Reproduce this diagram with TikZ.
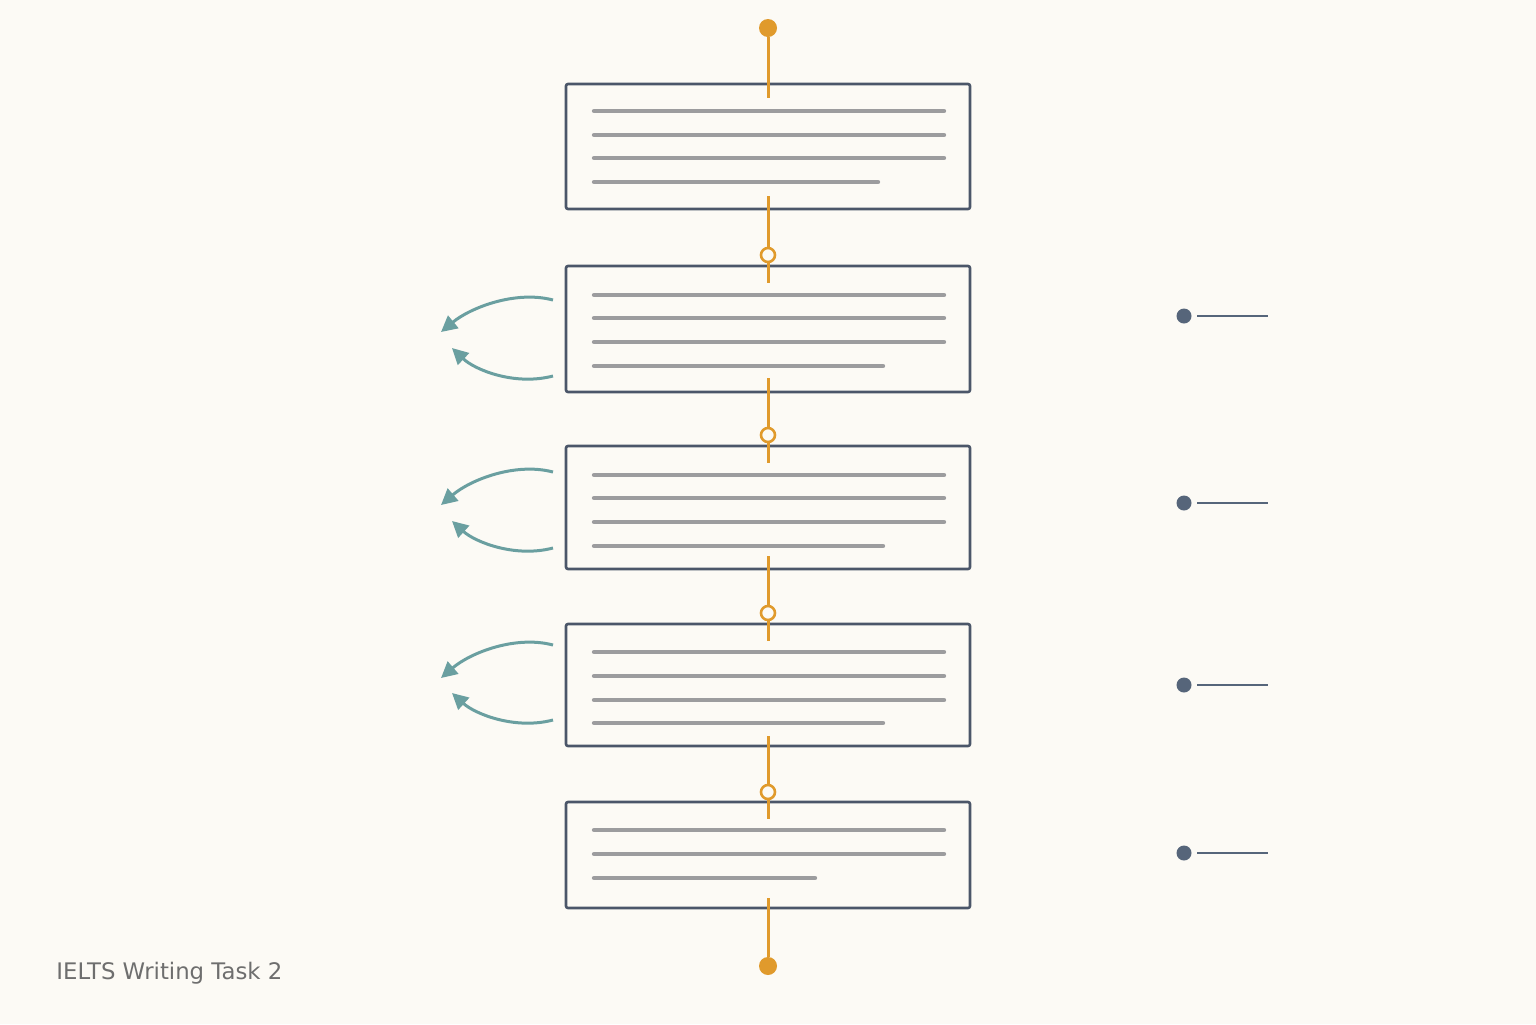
\documentclass[tikz,border=0pt]{standalone}
\usepackage{fontspec}
\newfontfamily\captionfont{DejaVu Sans}
\usepackage{tikz}
\usetikzlibrary{calc,positioning,arrows.meta}
\definecolor{bgcream}{HTML}{FCFAF5}
\definecolor{slate}{HTML}{4B5669}
\definecolor{txtgray}{HTML}{9C9C9E}
\definecolor{amber}{HTML}{E09A2C}
\definecolor{tealish}{HTML}{6A9FA0}
\definecolor{dotslate}{HTML}{56657A}
\definecolor{labelgray}{HTML}{6E6E6E}
\tikzset{
  para/.style={draw=slate,line width=1.3pt,rounded corners=1pt,fill=bgcream,
    minimum width=202pt,inner sep=0pt},
  textline/.style={txtgray,line width=2.2pt,line cap=round},
  spine/.style={amber,line width=1.5pt},
  enddot/.style={circle,fill=amber,minimum size=9pt,inner sep=0pt},
  joint/.style={circle,draw=amber,line width=1.3pt,fill=bgcream,minimum size=7pt,inner sep=0pt},
  bullet/.style={circle,fill=dotslate,minimum size=7.5pt,inner sep=0pt,outer sep=2.8pt},
  tick/.style={dotslate,line width=1.2pt},
  loopback/.style={tealish,line width=1.5pt,-{Triangle[length=8pt,width=8pt]}}
}
\begin{document}
\begin{tikzpicture}[x=0.5pt,y=-0.5pt]
\fill[bgcream] (0,0) rectangle (1536,1024);
\useasboundingbox (0,0) rectangle (1536,1024);

% paragraph boxes
\node[para,minimum height=62.5pt] (box1) at (768,146.5) {};
\node[para,minimum height=63pt] (box2) at (768,329) {};
\node[para,minimum height=61.5pt] (box3) at (768,507.5) {};
\node[para,minimum height=61pt] (box4) at (768,685) {};
\node[para,minimum height=53pt] (box5) at (768,855) {};

% text lines
\foreach \y/\e in {111/944,135/944,158/944,182/878}
  \draw[textline] (594,\y) -- (\e,\y);
\foreach \y/\e in {295/944,318/944,342/944,366/883}
  \draw[textline] (594,\y) -- (\e,\y);
\foreach \y/\e in {475/944,498/944,522/944,546/883}
  \draw[textline] (594,\y) -- (\e,\y);
\foreach \y/\e in {652/944,676/944,700/944,723/883}
  \draw[textline] (594,\y) -- (\e,\y);
\foreach \y/\e in {830/944,854/944,878/815}
  \draw[textline] (594,\y) -- (\e,\y);

% spine
\node[enddot] (start) at (768,28) {};
\coordinate (t1) at (768,98);
\draw[spine] (start) -- (t1);

\coordinate (b1) at (768,196);
\node[joint] (j1) at (768,255) {};
\coordinate (t2) at (768,283);
\draw[spine] (b1) -- (j1) -- (t2);

\coordinate (b2) at (768,378);
\node[joint] (j2) at (768,435) {};
\coordinate (t3) at (768,463);
\draw[spine] (b2) -- (j2) -- (t3);

\coordinate (b3) at (768,556);
\node[joint] (j3) at (768,613) {};
\coordinate (t4) at (768,641);
\draw[spine] (b3) -- (j3) -- (t4);

\coordinate (b4) at (768,736);
\node[joint] (j4) at (768,792) {};
\coordinate (t5) at (768,819);
\draw[spine] (b4) -- (j4) -- (t5);

\coordinate (b5) at (768,898);
\node[enddot] (finish) at (768,966) {};
\draw[spine] (b5) -- (finish);

% loop-back arrows
\foreach \n/\a/\b/\c/\d in {2/300/332/376/348,3/472/505/548/521,4/645/678/720/693}{
  \coordinate (u\n) at (553,\a);
  \coordinate (ut\n) at (441,\b);
  \coordinate (l\n) at (553,\c);
  \coordinate (lt\n) at (452,\d);
  \draw[loopback] (u\n) .. controls (515,\a-10) and (470,\a+8) .. (ut\n);
  \draw[loopback] (l\n) .. controls (515,\c+10) and (475,\c-6) .. (lt\n);
}

% markers on the right
\foreach \n/\y in {2/316,3/503,4/685,5/853}{
  \node[bullet] (m\n) at (1184,\y) {};
  \coordinate (me\n) at (1268,\y);
  \draw[tick] (m\n) -- (me\n);
}

\node[anchor=base west,inner sep=0pt,text=labelgray,
  font=\captionfont\fontsize{11.4}{13}\selectfont] (caption) at (56,979) {IELTS Writing Task 2};
\end{tikzpicture}
\end{document}
